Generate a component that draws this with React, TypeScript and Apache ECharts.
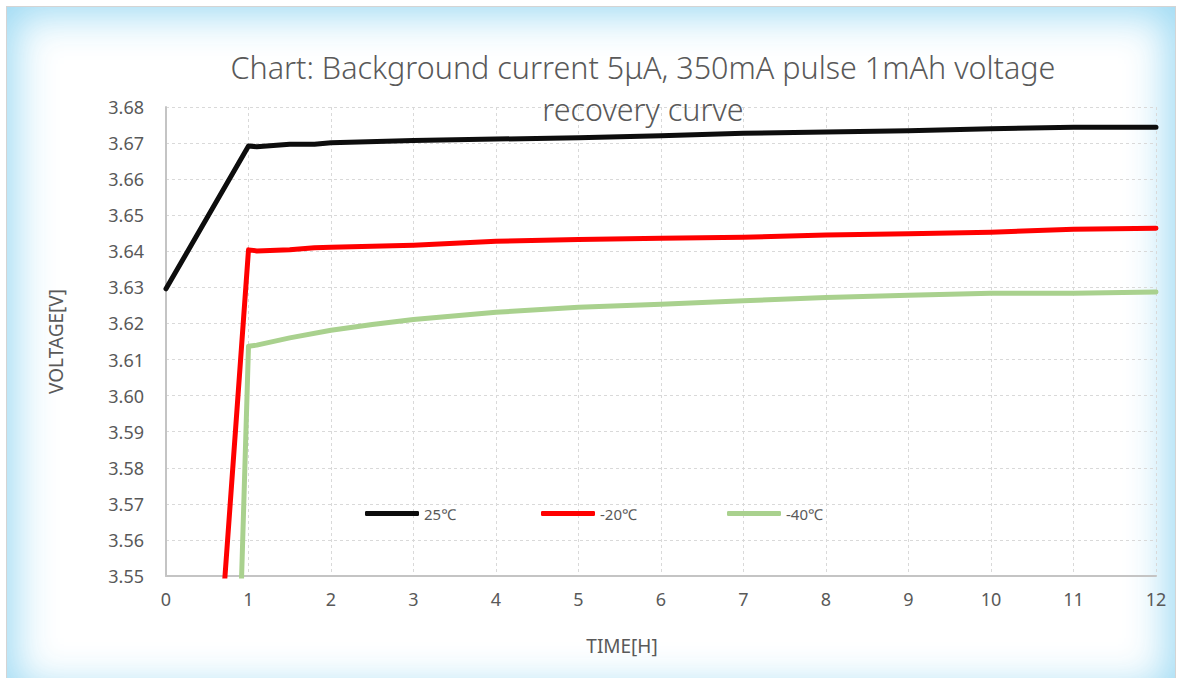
import React, { useEffect, useRef } from "react";
import * as echarts from "echarts";

const TITLE = "Chart: Background current 5μA, 350mA pulse 1mAh voltage\nrecovery curve";
const X_NAME = "TIME[H]";
const Y_NAME = "VOLTAGE[V]";

const seriesNames = ["25℃", "-20℃", "-40℃"];

const t25 = [0, 1, 1.1, 1.5, 1.8, 2, 3, 4, 5, 6, 7, 8, 9, 10, 11, 12];
const v25 = [3.6296, 3.6692, 3.6690, 3.6697, 3.6697, 3.6701, 3.6707, 3.6711, 3.6715, 3.6720, 3.6727, 3.6731, 3.6734, 3.6740, 3.6744, 3.6744];

const tM20 = [0, 1, 1.1, 1.5, 1.8, 2, 3, 4, 5, 6, 7, 8, 9, 10, 11, 12];
const vM20 = [3.323, 3.6404, 3.6401, 3.6404, 3.6410, 3.6411, 3.6417, 3.6428, 3.6433, 3.6436, 3.6439, 3.6445, 3.6449, 3.6453, 3.6461, 3.6464];

const tM40 = [0, 1, 1.1, 1.5, 2, 2.5, 3, 4, 5, 6, 7, 8, 9, 10, 11, 12];
const vM40 = [2.85, 3.6137, 3.6140, 3.6160, 3.6181, 3.6197, 3.6211, 3.6231, 3.6245, 3.6253, 3.6263, 3.6272, 3.6278, 3.6284, 3.6284, 3.6287];

const colors = ["#0d0d0d", "#ff0000", "#a9d18e"];
const legendLeft = [365, 541, 727];

const xMin = 0, xMax = 12, xStep = 1;
const yMin = 3.55, yMax = 3.68, yStep = 0.01;

const pair = (t: number[], v: number[]) => t.map((x, i) => [x, v[i]]);

export default function App() {
  const ref = useRef<HTMLDivElement>(null);
  useEffect(() => {
    if (!ref.current) return;
    const chart = echarts.init(ref.current, null, { renderer: "svg" });
    const font = "'Noto Sans', 'Noto Sans CJK SC', sans-serif";
    const grey = "#595959";
    const data = [pair(t25, v25), pair(tM20, vM20), pair(tM40, vM40)];
    chart.setOption({
      animation: false,
      textStyle: { fontFamily: font },
      title: {
        text: TITLE,
        left: 643,
        textAlign: "center",
        top: 46,
        padding: 0,
        textStyle: { fontSize: 30.5, lineHeight: 42, fontWeight: 300, color: grey, fontFamily: font },
      },
      legend: seriesNames.map((n, i) => ({
        data: [n],
        left: legendLeft[i],
        top: 506,
        padding: 0,
        itemWidth: 54,
        itemHeight: 5,
        itemGap: 4,
        icon: "roundRect",
        textStyle: { fontSize: 15, color: grey, fontFamily: font },
      })),
      grid: { left: 166, right: 25, top: 107, bottom: 102 },
      xAxis: {
        type: "value",
        min: xMin,
        max: xMax,
        interval: xStep,
        name: X_NAME,
        nameLocation: "middle",
        nameGap: 60,
        nameTextStyle: { fontSize: 19, color: grey, fontFamily: font, padding: [0, 78, 0, 0] },
        axisLine: { show: true, lineStyle: { color: "#c4c4c4", width: 2 } },
        axisTick: { show: false },
        axisLabel: { fontSize: 18, color: grey, margin: 14, fontFamily: font },
        splitLine: { show: true, lineStyle: { type: [3, 3], color: "#d9d9d9", width: 1 } },
      },
      yAxis: {
        type: "value",
        min: yMin,
        max: yMax,
        interval: yStep,
        name: Y_NAME,
        nameLocation: "middle",
        nameGap: 101,
        nameRotate: 90,
        nameTextStyle: { fontSize: 19, color: grey, fontFamily: font },
        axisLine: { show: true, lineStyle: { color: "#c4c4c4", width: 2 } },
        axisTick: { show: false },
        axisLabel: { fontSize: 18, color: grey, margin: 22, fontFamily: font, formatter: (v: number) => v.toFixed(2) },
        splitLine: { show: true, lineStyle: { type: [3, 3], color: "#d9d9d9", width: 1 } },
      },
      series: seriesNames.map((n, i) => ({
        name: n,
        type: "line",
        data: data[i],
        showSymbol: false,
        symbol: "none",
        clip: true,
        color: colors[i],
        lineStyle: { color: colors[i], width: 5, cap: "round", join: "round" },
        z: 3 - i,
      })),
    });
    return () => chart.dispose();
  }, []);

  return (
    <div style={{ position: "absolute", left: 0, top: 0, width: 1181, height: 678, overflow: "hidden", background: "#ffffff" }}>
      <div
        style={{
          position: "absolute",
          left: 6,
          top: 6,
          width: 1170,
          height: 690,
          border: "1px solid #d4d4d4",
          boxSizing: "border-box",
          boxShadow: "inset 0 0 40px 8px rgba(150, 215, 242, 0.95)",
          background: "#ffffff",
        }}
      />
      <div ref={ref} style={{ position: "absolute", left: 0, top: 0, width: 1181, height: 678 }} />
    </div>
  );
}
